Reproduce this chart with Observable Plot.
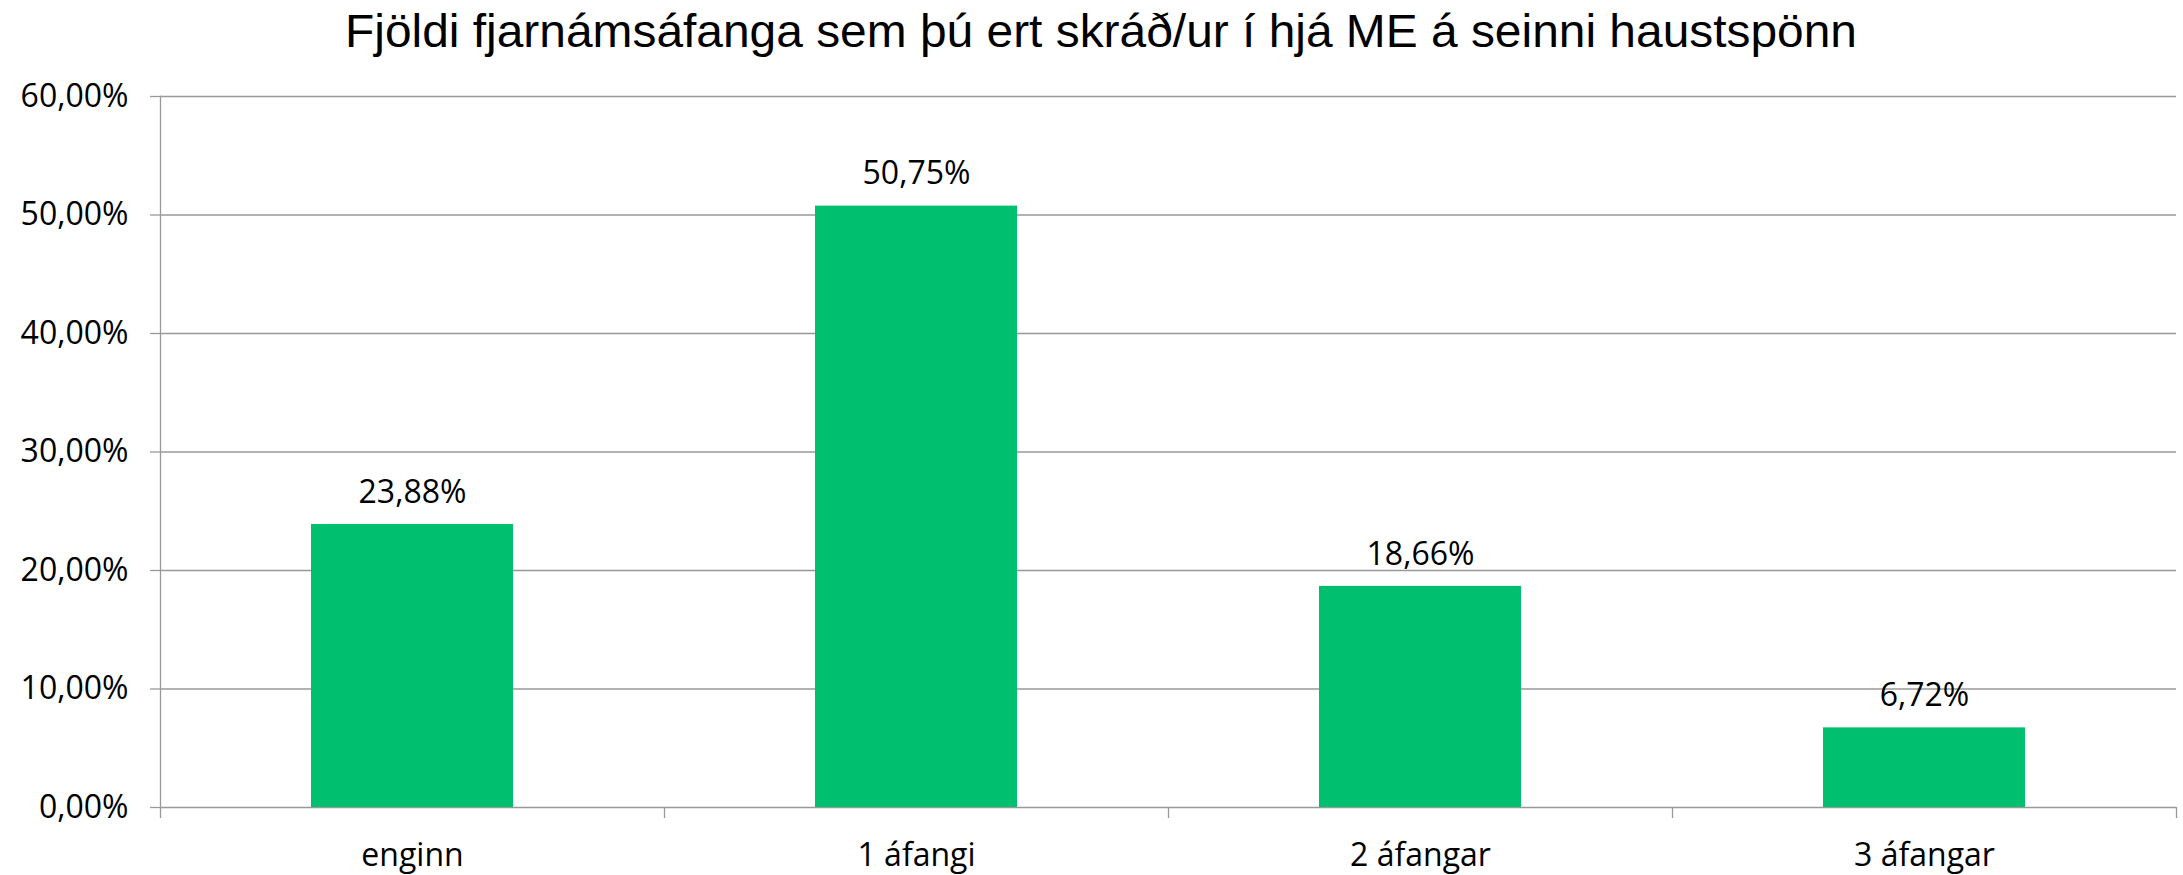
<!DOCTYPE html>
<html><head><meta charset="utf-8">
<script src="https://cdn.jsdelivr.net/npm/d3@7"></script>
<script src="https://cdn.jsdelivr.net/npm/@observablehq/plot@0.6"></script>
<style>
html,body{margin:0;padding:0;background:#fff;}
#chart{width:2183px;height:875px;overflow:hidden;background:#fff}
#chart svg{display:block}
</style></head><body><div id="chart"></div>
<script>
const title = "Fjöldi fjarnámsáfanga sem þú ert skráð/ur í hjá ME á seinni haustspönn";
const categories = ["enginn", "1 áfangi", "2 áfangar", "3 áfangar"];
const values = [23.88, 50.75, 18.66, 6.72];
const yTicks = [0, 10, 20, 30, 40, 50, 60];

const W = 2183, titleH = 60, H = 815;
const mL = 160, mR = 7, mT = 36, mB = 68;
const step = (W - mL - mR) / categories.length;
const data = categories.map((c, i) => ({category: c, value: values[i]}));
const fmt = v => v.toFixed(2).replace(".", ",") + "%";
const font = "'Open Sans', sans-serif";
const gray = "#999999";
const green = "#00bf6f";

const chart = document.getElementById("chart");

// Title
const tsvg = d3.create("svg").attr("width", W).attr("height", titleH);
tsvg.append("text")
  .attr("x", 1101).attr("y", 47)
  .attr("text-anchor", "middle")
  .attr("font-family", "'Liberation Sans', Arial, sans-serif")
  .attr("font-size", 47)
  .attr("textLength", 1512)
  .attr("lengthAdjust", "spacingAndGlyphs")
  .attr("fill", "#000")
  .text(title);
chart.appendChild(tsvg.node());

const plot = Plot.plot({
  width: W, height: H,
  marginLeft: mL, marginRight: mR, marginTop: mT, marginBottom: mB,
  style: {fontFamily: font, fontSize: "32px", color: "#000", background: "#fff", overflow: "visible"},
  x: {domain: categories, paddingInner: 0.6, paddingOuter: 0.3, label: null},
  y: {domain: [0, 60], label: null},
  marks: [
    Plot.gridY(yTicks, {stroke: gray, strokeOpacity: 1, strokeWidth: 1.3}),
    Plot.frame({anchor: "left", stroke: gray, strokeWidth: 1.3}),
    Plot.axisY(yTicks, {tickSize: 10, text: null, stroke: gray, strokeWidth: 1.3, label: null}),
    Plot.axisY(yTicks, {tickSize: 0, tickPadding: 32, tickFormat: fmt, fill: "#000", fontSize: 32, label: null}),
    Plot.axisX(categories, {tickSize: 11, text: null, dx: -step / 2, stroke: gray, strokeWidth: 1.3, label: null}),
    Plot.axisX([categories[categories.length - 1]], {tickSize: 11, text: null, dx: step / 2, stroke: gray, strokeWidth: 1.3, label: null}),
    Plot.axisX(categories, {tickSize: 0, tickPadding: 36, fill: "#000", fontSize: 32, label: null}),
    Plot.barY(data, {x: "category", y: "value", fill: green}),
    Plot.text(data, {x: "category", y: "value", text: d => fmt(d.value), dy: -32, fontSize: 32, fill: "#000"})
  ]
});
chart.appendChild(plot);
</script>
</body></html>
